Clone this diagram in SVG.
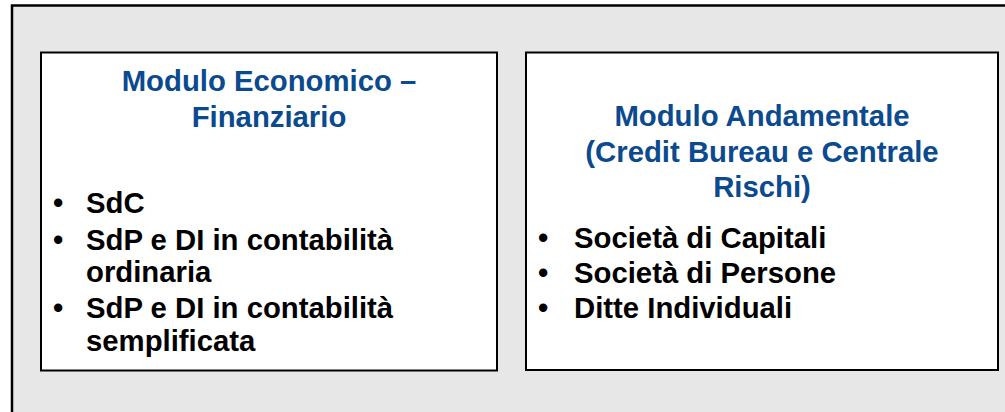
<svg xmlns="http://www.w3.org/2000/svg" width="1005" height="412" viewBox="0 0 1005 412">
<style>
.frame{fill:#e7e7e7;stroke:#000;stroke-width:2.5}
.box{fill:#fff;stroke:#000;stroke-width:2}
.title{font-family:"Liberation Sans",Arial,sans-serif;font-weight:bold;font-size:29.3px;fill:#0b4a8f;text-anchor:middle}
.item{font-family:"Liberation Sans",Arial,sans-serif;font-weight:bold;font-size:29.3px;fill:#000}
</style>
<rect class="frame" x="12" y="5.5" width="1010" height="420"/>
<g id="connectors"></g>
<g id="modulo-economico">
<rect class="box" x="41" y="52.5" width="456" height="318"/>
<text class="title" x="269" y="91">Modulo Economico –<tspan x="269" y="127">Finanziario</tspan></text>
<text class="item" x="53" y="213">•</text><text class="item" x="86" y="213">SdC</text>
<text class="item" x="53" y="250">•</text><text class="item" x="86" y="250">SdP e DI in contabilità<tspan x="86" y="282">ordinaria</tspan></text>
<text class="item" x="53" y="318">•</text><text class="item" x="86" y="318">SdP e DI in contabilità<tspan x="86" y="351">semplificata</tspan></text>
</g>
<g id="modulo-andamentale">
<rect class="box" x="526" y="52.5" width="472" height="317.5"/>
<text class="title" x="762" y="126">Modulo Andamentale<tspan x="762" y="161.5">(Credit Bureau e Centrale</tspan><tspan x="762" y="197">Rischi)</tspan></text>
<text class="item" x="538" y="248">•</text><text class="item" x="574" y="248">Società di Capitali</text>
<text class="item" x="538" y="283">•</text><text class="item" x="574" y="283">Società di Persone</text>
<text class="item" x="538" y="318">•</text><text class="item" x="574" y="318">Ditte Individuali</text>
</g>
</svg>
